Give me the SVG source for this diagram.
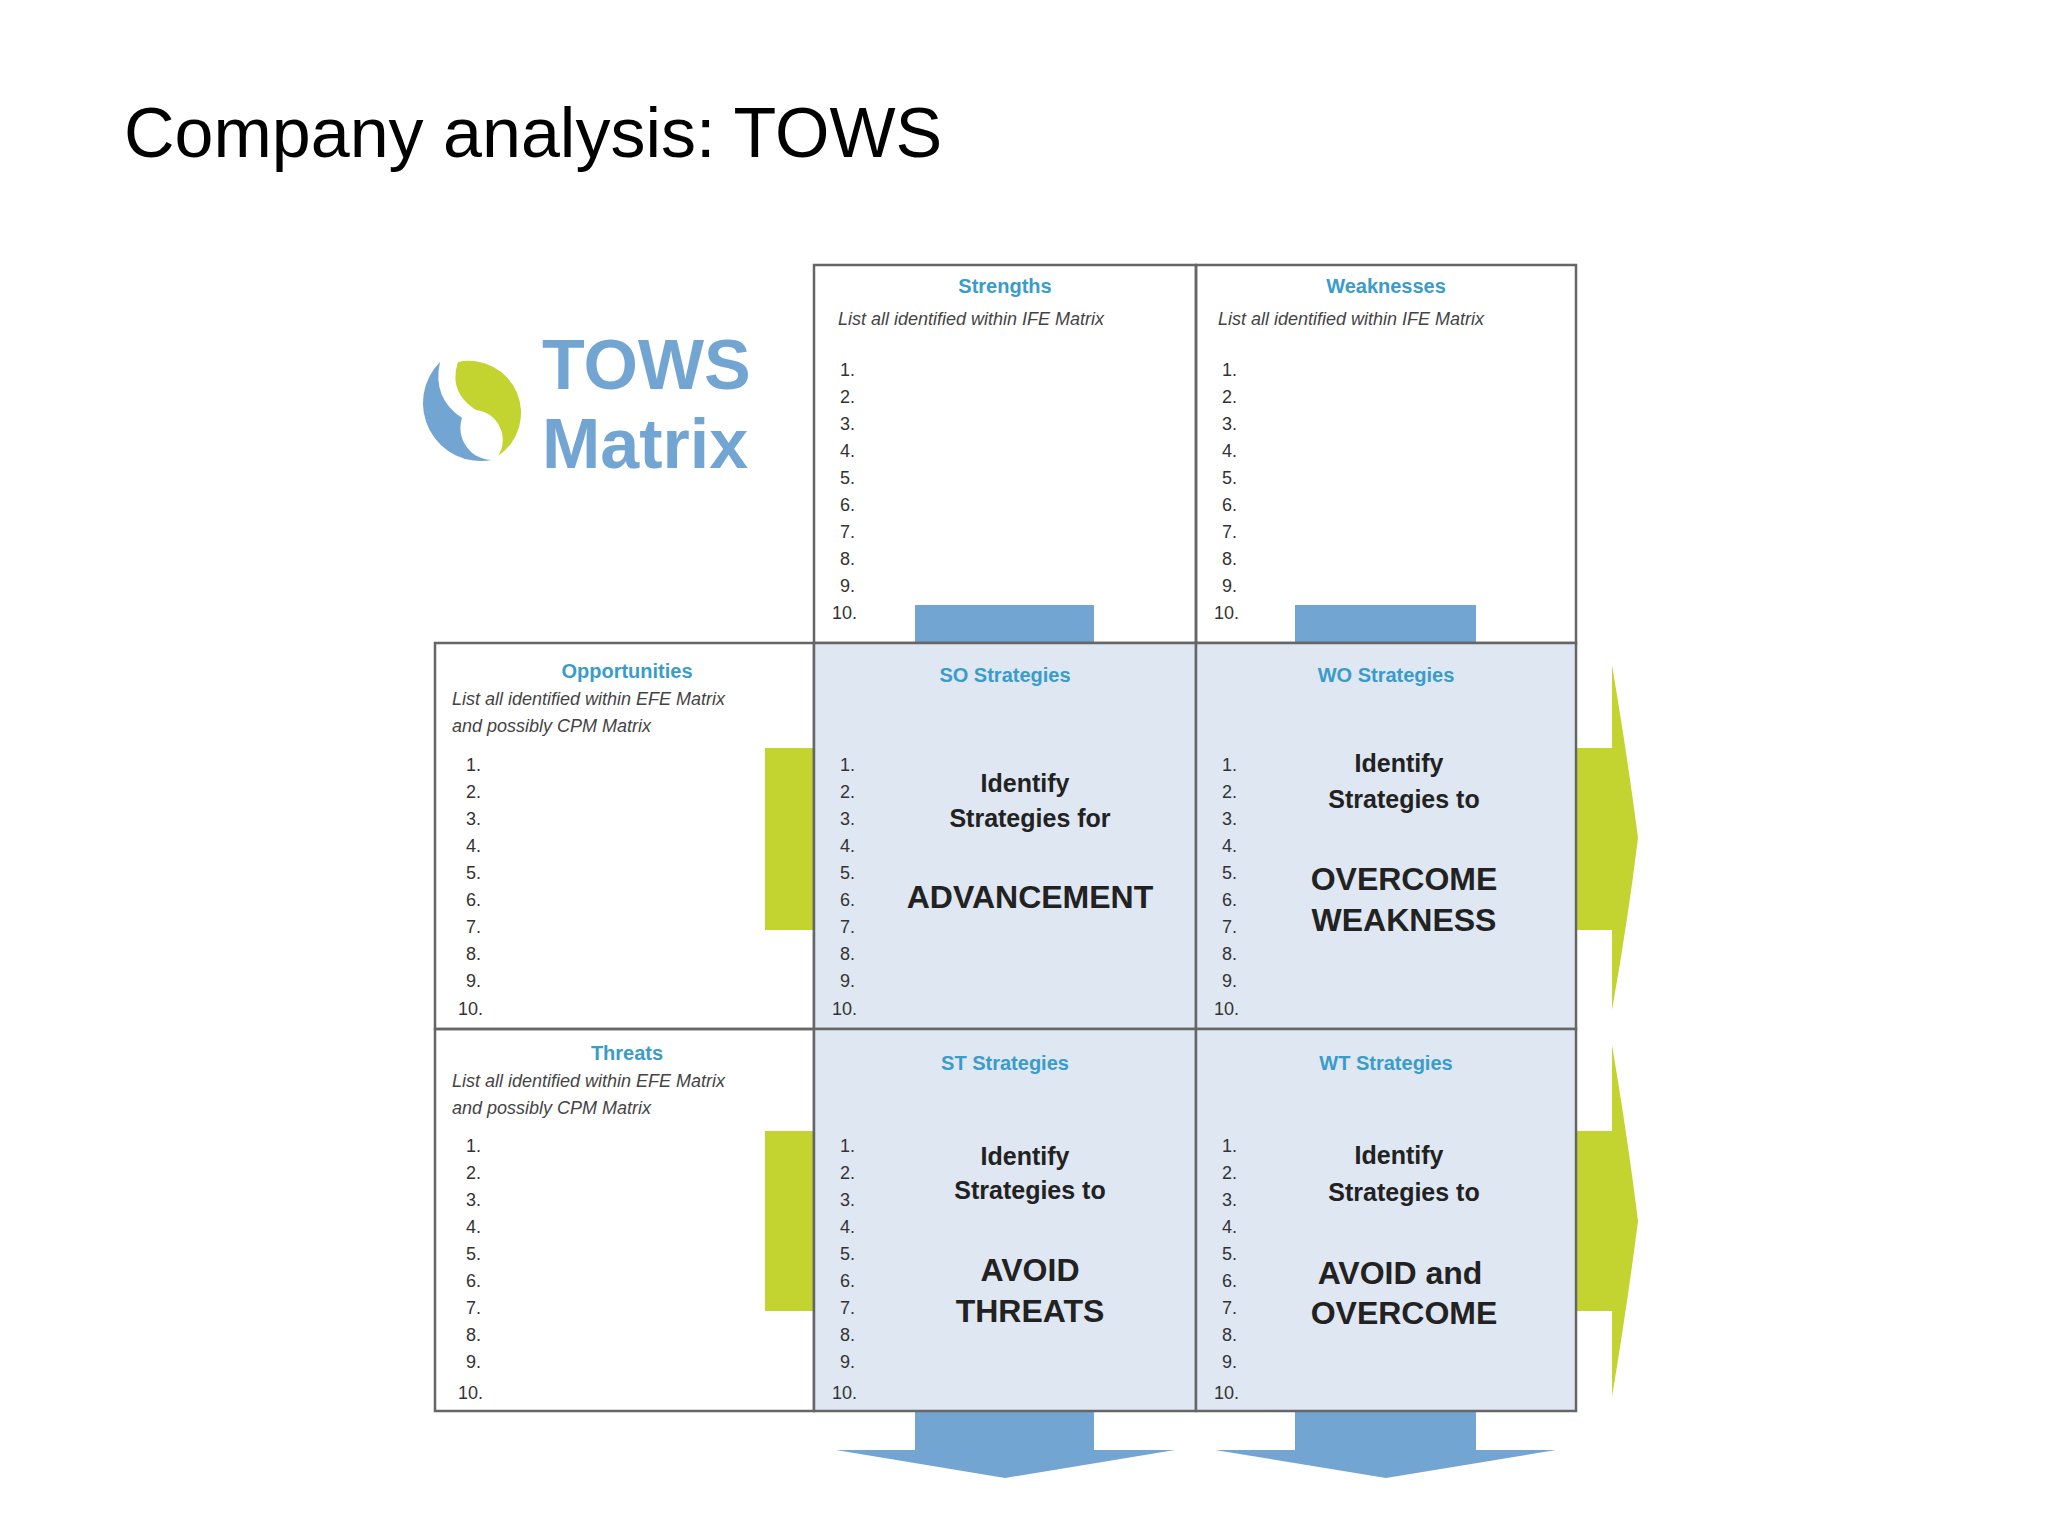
<svg xmlns="http://www.w3.org/2000/svg" width="2048" height="1536" viewBox="0 0 2048 1536">
<style>
.t{font-family:"Liberation Sans",Arial,sans-serif}
.h{font-family:"Liberation Sans",Arial,sans-serif;font-weight:bold;font-size:20px;fill:#3a9cc8;text-anchor:middle}
.s{font-family:"Liberation Sans",Arial,sans-serif;font-style:italic;font-size:18px;fill:#444}
.n{font-family:"Liberation Sans",Arial,sans-serif;font-size:18px;fill:#333}
.b{font-family:"Liberation Sans",Arial,sans-serif;font-weight:bold;fill:#222;text-anchor:middle}
.cell{stroke:#666;stroke-width:2.5}
.blue{fill:#73a5d3}
.green{fill:#c3d430}
</style>
<rect width="2048" height="1536" fill="#fff"/>
<text class="t" x="124" y="157" font-size="70" fill="#000">Company analysis: TOWS</text>
<g id="logo">
<path d="M440 362 A58 58 0 0 0 492 460 A32 32 0 0 1 462 418 Q432 398 440 362 Z" fill="#73a5d3"/>
<path d="M458 362 A52 52 0 0 1 498 456 A30 30 0 0 0 476 410 Q448 392 458 362 Z" fill="#c3d430"/>
<text class="t" x="542" y="389" font-size="70" font-weight="bold" fill="#73a5d3">TOWS</text>
<text class="t" x="542" y="468" font-size="70" font-weight="bold" fill="#73a5d3">Matrix</text>
</g>
<g id="arrows">
<rect class="blue" x="915" y="605" width="179" height="38"/>
<rect class="blue" x="1295" y="605" width="181" height="38"/>
<rect class="green" x="765" y="748" width="49" height="182"/>
<rect class="green" x="765" y="1131" width="49" height="180"/>
<path class="green" d="M1576 748 H1612 V665 Q1628 760 1638 838 Q1628 920 1612 1010 V930 H1576 Z"/>
<path class="green" d="M1576 1131 H1612 V1045 Q1628 1140 1638 1221 Q1628 1300 1612 1397 V1311 H1576 Z"/>
<path class="blue" d="M915 1411 H1094 V1450 H1175 L1005 1478 L836 1450 H915 Z"/>
<path class="blue" d="M1295 1411 H1476 V1450 H1556 L1386 1478 L1215 1450 H1295 Z"/>
</g>
<g id="S"><rect class="cell" x="814" y="265" width="382" height="378" fill="none"/>
<text class="h" x="1005" y="293">Strengths</text><text class="s" x="838" y="325">List all identified within IFE Matrix</text></g>
<g id="W"><rect class="cell" x="1196" y="265" width="380" height="378" fill="none"/>
<text class="h" x="1386" y="293">Weaknesses</text><text class="s" x="1218" y="325">List all identified within IFE Matrix</text></g>
<g id="O"><rect class="cell" x="435" y="643" width="379" height="386" fill="none"/>
<text class="h" x="627" y="678">Opportunities</text><text class="s" x="452" y="705">List all identified within EFE Matrix</text><text class="s" x="452" y="732">and possibly CPM Matrix</text></g>
<g id="T"><rect class="cell" x="435" y="1029" width="379" height="382" fill="none"/>
<text class="h" x="627" y="1060">Threats</text><text class="s" x="452" y="1087">List all identified within EFE Matrix</text><text class="s" x="452" y="1114">and possibly CPM Matrix</text></g>
<g id="SO"><rect class="cell" x="814" y="643" width="382" height="386" fill="#dfe7f2"/>
<text class="h" x="1005" y="682">SO Strategies</text>
<text class="b" x="1025" y="792" font-size="25">Identify</text><text class="b" x="1030" y="827" font-size="25">Strategies for</text>
<text class="b" x="1030" y="908" font-size="32">ADVANCEMENT</text></g>
<g id="WO"><rect class="cell" x="1196" y="643" width="380" height="386" fill="#dfe7f2"/>
<text class="h" x="1386" y="682">WO Strategies</text>
<text class="b" x="1399" y="772" font-size="25">Identify</text><text class="b" x="1404" y="808" font-size="25">Strategies to</text>
<text class="b" x="1404" y="890" font-size="32">OVERCOME</text><text class="b" x="1404" y="931" font-size="32">WEAKNESS</text></g>
<g id="ST"><rect class="cell" x="814" y="1029" width="382" height="382" fill="#dfe7f2"/>
<text class="h" x="1005" y="1070">ST Strategies</text>
<text class="b" x="1025" y="1165" font-size="25">Identify</text><text class="b" x="1030" y="1199" font-size="25">Strategies to</text>
<text class="b" x="1030" y="1281" font-size="32">AVOID</text><text class="b" x="1030" y="1322" font-size="32">THREATS</text></g>
<g id="WT"><rect class="cell" x="1196" y="1029" width="380" height="382" fill="#dfe7f2"/>
<text class="h" x="1386" y="1070">WT Strategies</text>
<text class="b" x="1399" y="1164" font-size="25">Identify</text><text class="b" x="1404" y="1201" font-size="25">Strategies to</text>
<text class="b" x="1400" y="1284" font-size="32">AVOID and</text><text class="b" x="1404" y="1324" font-size="32">OVERCOME</text></g>
<g id="numbers">
<g class="n">
<text x="840" y="376">1.</text><text x="840" y="403">2.</text><text x="840" y="430">3.</text><text x="840" y="457">4.</text><text x="840" y="484">5.</text><text x="840" y="511">6.</text><text x="840" y="538">7.</text><text x="840" y="565">8.</text><text x="840" y="592">9.</text><text x="832" y="619">10.</text>
<text x="1222" y="376">1.</text><text x="1222" y="403">2.</text><text x="1222" y="430">3.</text><text x="1222" y="457">4.</text><text x="1222" y="484">5.</text><text x="1222" y="511">6.</text><text x="1222" y="538">7.</text><text x="1222" y="565">8.</text><text x="1222" y="592">9.</text><text x="1214" y="619">10.</text>
</g>
<g class="n">
<text x="466" y="771">1.</text><text x="466" y="798">2.</text><text x="466" y="825">3.</text><text x="466" y="852">4.</text><text x="466" y="879">5.</text><text x="466" y="906">6.</text><text x="466" y="933">7.</text><text x="466" y="960">8.</text><text x="466" y="987">9.</text><text x="458" y="1015">10.</text>
<text x="840" y="771">1.</text><text x="840" y="798">2.</text><text x="840" y="825">3.</text><text x="840" y="852">4.</text><text x="840" y="879">5.</text><text x="840" y="906">6.</text><text x="840" y="933">7.</text><text x="840" y="960">8.</text><text x="840" y="987">9.</text><text x="832" y="1015">10.</text>
<text x="1222" y="771">1.</text><text x="1222" y="798">2.</text><text x="1222" y="825">3.</text><text x="1222" y="852">4.</text><text x="1222" y="879">5.</text><text x="1222" y="906">6.</text><text x="1222" y="933">7.</text><text x="1222" y="960">8.</text><text x="1222" y="987">9.</text><text x="1214" y="1015">10.</text>
</g>
<g class="n">
<text x="466" y="1152">1.</text><text x="466" y="1179">2.</text><text x="466" y="1206">3.</text><text x="466" y="1233">4.</text><text x="466" y="1260">5.</text><text x="466" y="1287">6.</text><text x="466" y="1314">7.</text><text x="466" y="1341">8.</text><text x="466" y="1368">9.</text><text x="458" y="1399">10.</text>
<text x="840" y="1152">1.</text><text x="840" y="1179">2.</text><text x="840" y="1206">3.</text><text x="840" y="1233">4.</text><text x="840" y="1260">5.</text><text x="840" y="1287">6.</text><text x="840" y="1314">7.</text><text x="840" y="1341">8.</text><text x="840" y="1368">9.</text><text x="832" y="1399">10.</text>
<text x="1222" y="1152">1.</text><text x="1222" y="1179">2.</text><text x="1222" y="1206">3.</text><text x="1222" y="1233">4.</text><text x="1222" y="1260">5.</text><text x="1222" y="1287">6.</text><text x="1222" y="1314">7.</text><text x="1222" y="1341">8.</text><text x="1222" y="1368">9.</text><text x="1214" y="1399">10.</text>
</g>
</g>
</svg>
